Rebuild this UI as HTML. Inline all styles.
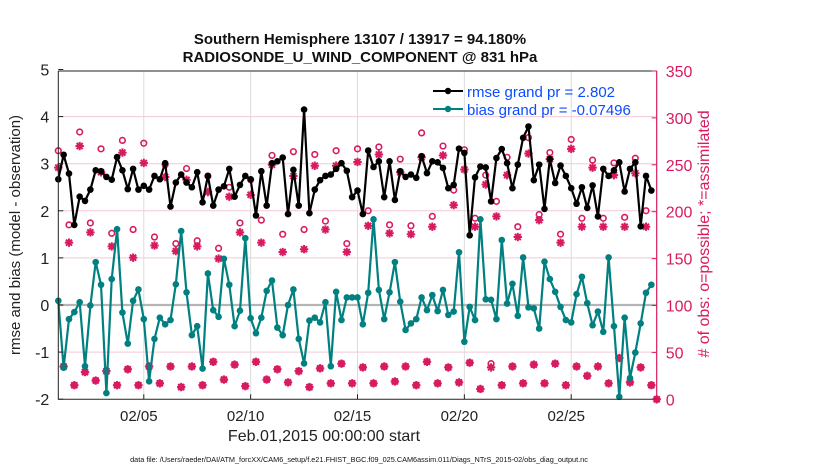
<!DOCTYPE html>
<html><head><meta charset="utf-8">
<style>
html,body{margin:0;padding:0;background:#fff;}
svg{display:block;font-family:"Liberation Sans",Arial,sans-serif;}
</style></head>
<body>
<svg id="chart" width="830" height="470" viewBox="0 0 830 470" xmlns="http://www.w3.org/2000/svg">
<text x="360" y="44" text-anchor="middle" font-size="15" font-weight="bold" fill="#111">Southern Hemisphere 13107 / 13917 = 94.180%</text>
<text x="360" y="62" text-anchor="middle" font-size="15" font-weight="bold" fill="#111">RADIOSONDE_U_WIND_COMPONENT @ 831 hPa</text>
<g id="grid"></g>
<g id="marks"></g>
<g id="axes"></g>
<text transform="translate(20,235) rotate(-90)" text-anchor="middle" font-size="15" fill="#222">rmse and bias (model - observation)</text>
<text transform="translate(709,234) rotate(-90)" text-anchor="middle" font-size="16" fill="#d81b60"># of obs: o=possible; *=assimilated</text>
<text x="324" y="441" text-anchor="middle" font-size="16" fill="#222">Feb.01,2015 00:00:00 start</text>
<text x="359" y="462" text-anchor="middle" font-size="7.3" fill="#111">data file: /Users/raeder/DAI/ATM_forcXX/CAM6_setup/f.e21.FHIST_BGC.f09_025.CAM6assim.011/Diags_NTrS_2015-02/obs_diag_output.nc</text>
<g>
  <line x1="433" y1="91" x2="463" y2="91" stroke="#000" stroke-width="2"/>
  <circle cx="448" cy="91" r="3.2" fill="#000"/>
  <text x="467" y="97" font-size="15" fill="#0a4cff">rmse grand pr = 2.802</text>
  <line x1="433" y1="109" x2="463" y2="109" stroke="#008080" stroke-width="2"/>
  <circle cx="448" cy="109" r="3.2" fill="#008080"/>
  <text x="467" y="115" font-size="15" fill="#0a4cff">bias grand pr = -0.07496</text>
</g>
</svg>
<script>
const rmse = [2.67,3.19,2.79,1.70,2.30,2.21,2.45,2.86,2.84,2.72,2.66,3.14,2.86,2.46,2.89,2.45,2.53,2.45,2.74,2.67,3.01,2.09,2.60,2.77,2.60,
2.50,2.82,2.18,2.74,2.11,2.45,2.52,2.89,2.30,2.55,2.74,2.67,1.90,2.84,2.11,3.01,3.05,3.13,1.93,2.87,2.11,4.15,1.95,2.45,2.65,2.74,2.77,2.89,3.01,2.85,
2.29,2.43,1.93,3.28,2.93,3.05,2.29,3.05,2.23,2.84,2.72,2.77,2.70,3.16,2.80,3.05,3.03,2.91,2.48,2.55,3.32,3.23,1.48,2.71,2.94,2.92,2.20,3.12,3.31,3.01,
2.48,2.98,3.55,3.79,2.65,2.98,2.04,3.10,2.59,2.96,2.74,2.48,2.15,2.50,2.06,2.54,1.88,2.89,2.74,2.86,3.03,2.41,2.89,3.03,1.67,2.74,2.43];
const bias = [0.09,-1.33,-0.30,-0.15,0.06,-1.30,-0.01,0.91,0.43,-1.87,0.55,1.61,-0.16,-0.82,0.09,0.33,-0.30,-1.62,-0.72,-0.27,-0.41,-0.32,0.44,1.57,0.27,
-0.64,-0.45,-1.35,0.67,-0.11,-0.25,0.98,0.43,-0.45,-0.12,1.42,-0.28,-0.60,-0.27,0.30,0.52,-0.48,-0.64,0.00,0.33,-0.72,-1.24,-0.33,-0.27,-0.37,0.06,-1.30,0.28,-0.32,0.16,
0.16,0.16,-0.41,0.26,1.82,0.32,-0.30,0.27,0.91,0.07,-0.53,-0.39,-0.30,0.16,-0.11,0.21,-0.13,0.32,-0.21,-0.14,1.12,-0.78,-0.04,-0.32,1.82,0.12,0.11,-0.30,1.38,0.03,
0.45,-0.23,1.01,-0.05,-0.07,-0.50,0.92,0.55,0.28,-0.04,-0.32,-0.37,0.23,0.60,0.04,-0.43,-0.14,-0.57,1.01,-0.45,-1.95,-0.27,-1.55,-1.01,-0.39,0.26,0.43];
const possible = [265,35,186,15,285,29,188,20,267,30,177,15,276,32,181,15,273,35,173,17,250,35,166,13,246,
35,169,15,238,40,161,21,226,37,188,14,234,40,191,21,260,32,176,18,264,30,181,13,261,33,190,17,265,38,166,
17,267,34,201,17,269,35,186,19,256,35,185,15,284,40,195,17,270,34,223,18,266,39,193,11,239,38,211,15,258,
35,184,17,279,37,197,17,263,38,176,15,277,35,193,25,255,35,193,17,252,44,194,18,257,34,201,15,0];
const assimilated = [247,35,167,15,270,29,178,20,242,30,163,15,263,32,151,15,252,35,164,17,237,35,158,13,234,
35,163,15,221,40,150,21,216,37,178,14,218,40,167,21,250,32,157,18,238,30,160,13,249,33,181,17,249,38,157,
17,253,34,185,17,261,35,177,19,242,35,176,15,258,40,184,17,260,34,207,18,245,39,184,11,229,34,195,15,239,
35,173,17,262,37,191,17,256,38,167,15,267,35,184,25,247,35,184,17,239,44,184,18,241,34,184,15,0];
const leftTicks = [5,4,3,2,1,0,-1,-2];
const rightTicks = [350,300,250,200,150,100,50,0];
const dateTickDays = [4,9,14,19,24];
const dateTickLabels = ["02/05","02/10","02/15","02/20","02/25"];
const stepDays = 0.25;

const NS="http://www.w3.org/2000/svg";
const X0=58.3, X1=656.7, DAYS=28, YT=71, YB=399.3;
const xs = d => X0 + d*(X1-X0)/DAYS;
const yL = v => 305 - v*47.1;
const yR = c => YB - c*(YB-YT)/350;
function mk(parent,tag,attrs){const e=document.createElementNS(NS,tag);for(const k in attrs)e.setAttribute(k,attrs[k]);parent.appendChild(e);return e;}
const grid=document.getElementById('grid'), marks=document.getElementById('marks'), axes=document.getElementById('axes');
const CR="#d81b60";

leftTicks.forEach(v=>{ if(v===5||v===-2||v===0) return;
  const l=mk(grid,'line',{x1:X0,x2:X1,y1:yL(v),y2:yL(v),stroke:"#f3c9d8","stroke-width":1});
  
  
});
dateTickDays.forEach(d=>{
  const l=mk(grid,'line',{x1:xs(d),x2:xs(d),y1:YT,y2:YB,stroke:"#dcdcdc","stroke-width":1});
  
  
});
const zl=mk(grid,'line',{x1:X0,x2:X1,y1:yL(0),y2:yL(0),stroke:"#b5b5b5","stroke-width":2.2});



function star(g,cx,cy,r){
  return mk(g,'path',{d:`M${cx-r} ${cy}H${cx+r}M${cx} ${cy-r}V${cy+r}M${cx-r*0.72} ${cy-r*0.72}L${cx+r*0.72} ${cy+r*0.72}M${cx-r*0.72} ${cy+r*0.72}L${cx+r*0.72} ${cy-r*0.72}`,stroke:CR,"stroke-width":2,fill:"none"});
}
possible.forEach((c,i)=>{
  const c1=mk(marks,'circle',{cx:xs(i*stepDays),cy:yR(c),r:2.8,fill:"none",stroke:CR,"stroke-width":1.6});
  
  
});
assimilated.forEach((c,i)=>{
  const s=star(marks,xs(i*stepDays),yR(c),4.2);
  
  
});

function series(vals,color,name){
  const pts=vals.map((v,i)=>xs(i*stepDays).toFixed(1)+","+yL(v).toFixed(1)).join(" ");
  const pl=mk(marks,'polyline',{points:pts,fill:"none",stroke:color,"stroke-width":2.2,"stroke-linejoin":"round"});
  
  
  vals.forEach((v,i)=>{
    const p=mk(marks,'circle',{cx:xs(i*stepDays),cy:yL(v),r:3.3,fill:color});
    
    
  });
}
series(bias,"#008080","bias");
series(rmse,"#000000","rmse");

const box=mk(axes,'path',{d:`M${X0} ${YT}V${YB}H${X1}M${X0} ${YT}H${X1}`,stroke:"#222","stroke-width":1,fill:"none"});


const ra=mk(axes,'line',{x1:X1,x2:X1,y1:YT,y2:YB,stroke:CR,"stroke-width":1.2});


leftTicks.forEach(v=>{
  mk(axes,'line',{x1:X0,x2:X0+5,y1:yL(v),y2:yL(v),stroke:"#222"});
  const t=mk(axes,'text',{x:X0-9,y:yL(v)+6,"text-anchor":"end","font-size":16,fill:"#222"});
  t.textContent=v;
  
  
});
rightTicks.forEach(c=>{
  mk(axes,'line',{x1:X1-5,x2:X1,y1:yR(c),y2:yR(c),stroke:CR});
  const t=mk(axes,'text',{x:X1+9,y:yR(c)+6,"font-size":16,fill:CR});
  t.textContent=c;
  
  
});
dateTickDays.forEach((d,k)=>{
  mk(axes,'line',{x1:xs(d),x2:xs(d),y1:YB,y2:YB-5,stroke:"#222"});
  const t=mk(axes,'text',{x:xs(d)-5,y:421,"text-anchor":"middle","font-size":15,fill:"#222"});
  t.textContent=dateTickLabels[k];
  
  
});
</script>
</body></html>
